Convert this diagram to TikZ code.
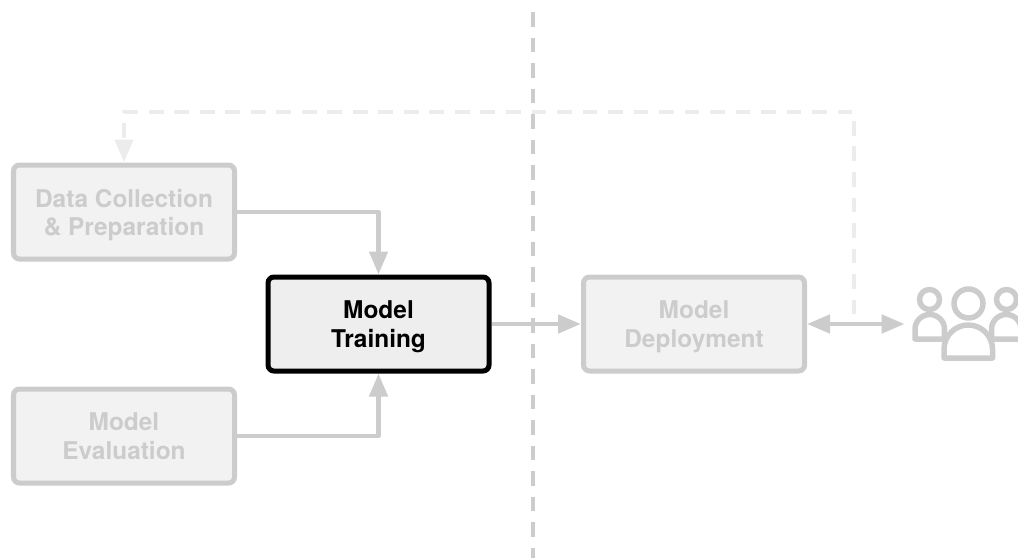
\documentclass[tikz,border=0pt]{standalone}
\usepackage{fontspec}
\setmainfont{TeX Gyre Heros}
\usetikzlibrary{arrows.meta}
\definecolor{faded}{HTML}{CCCCCC}
\definecolor{fainter}{HTML}{ECECEC}
\definecolor{boxfill}{HTML}{F2F2F2}
\definecolor{activefill}{HTML}{EEEEEE}
\newcommand{\lowered}[1]{\raisebox{-1.7pt}[\height][\depth]{#1}}
\tikzstyle{line} = [draw=faded, line width=0.095cm, line join=round, ->]
\tikzstyle{feedback} = [line, draw=fainter, dash pattern=on 0.294cm off 0.216cm]
\tikzstyle{box} = [draw=faded, line width=0.1cm, fill=boxfill, rounded corners=0.12cm, text=faded, minimum width=4.42cm, minimum height=1.88cm, align=center, font=\fontsize{13.9}{16.4}\selectfont\bfseries]
\tikzstyle{active} = [box, draw=black, fill=activefill, text=black]

\begin{document}
\begin{tikzpicture}[>={Triangle[length=0.46cm,width=0.36cm]}]
\clip (0,0) rectangle (20.36,11.16);
% split between the two stages
\coordinate (splittop) at (10.66,10.92);
\coordinate (splitbottom) at (10.66,0);
\draw [faded, line width=0.08cm, dash pattern=on 0.294cm off 0.216cm] (splittop) -- (splitbottom);
\node (data) at (2.48,6.92) [box] {\lowered{Data Collection}\\\lowered{\& Preparation}};
\node (training) at (7.57,4.68) [active] {\lowered{Model}\\\lowered{Training}};
\node (evaluation) at (2.48,2.44) [box] {Model\\Evaluation};
\node (deployment) at (13.88,4.68) [box] {\lowered{Model}\\\lowered{Deployment}};
\node (users) at (19.36,4.68) [minimum width=2.52cm, minimum height=1.6cm] {};
\coordinate (fbstart) at (17.08,4.876);
\coordinate (fbturn) at (17.08,8.92);
% draw lines
\path [line] (data) -| (training);
\path [line] (evaluation) -| (training);
\path [line] (training) -- (deployment);
\path [line,<->] (deployment) -- (users);
\path [feedback] (fbstart) -- (fbturn) -| (data);
% users icon
\begin{scope}[shift={(users.center)}, faded, line width=0.11cm, line join=round]
\draw (0.01,0.41) circle (0.29);
\draw (-0.77,0.49) circle (0.2);
\draw (0.77,0.49) circle (0.2);
\draw (-0.48,-0.68) -- (-0.48,-0.505) arc (180:0:0.485) -- (0.49,-0.68) -- cycle;
\draw (-0.48,-0.3) -- (-1.06,-0.3) -- (-1.06,-0.105) arc (180:0:0.295) -- (-0.475,-0.3);
\draw (0.48,-0.3) -- (1.06,-0.3) -- (1.06,-0.105) arc (0:180:0.295) -- (0.475,-0.3);
\end{scope}
\end{tikzpicture}
\end{document}
